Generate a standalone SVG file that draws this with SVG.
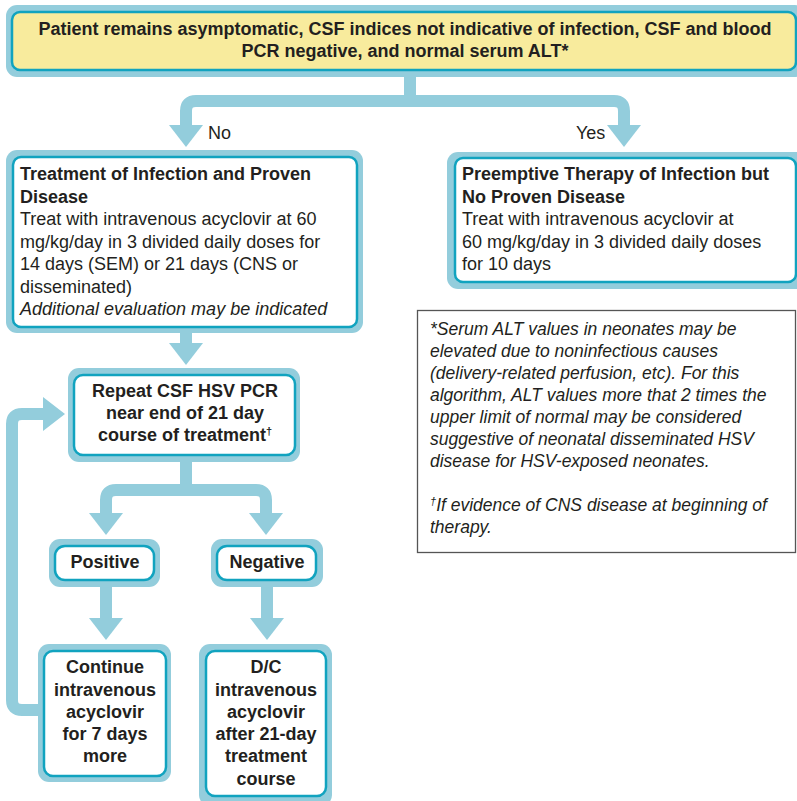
<svg xmlns="http://www.w3.org/2000/svg" width="797" height="801" viewBox="0 0 797 801">
<defs>
<style>
.outer{fill:#93CDDC;}
.inner{fill:#FFFFFF;stroke:#11A3BF;stroke-width:2.5;}
.yellow{fill:#F8EB9D;}
.conn{fill:none;stroke:#93CDDC;stroke-width:12;stroke-linejoin:round;}
text{font-family:"Liberation Sans",Arial,Helvetica,sans-serif;fill:#231F20;font-size:18px;}
.b{font-weight:bold;}
.c{text-anchor:middle;}
.note{font-size:17.5px;font-style:italic;}
.sup{font-size:11px;}
</style>
<marker id="ah" markerUnits="userSpaceOnUse" viewBox="0 -18 24 36" refX="1" refY="0" markerWidth="24" markerHeight="36" orient="auto">
<path d="M0,-17 L22,0 L0,17 Z" fill="#93CDDC"/>
</marker>
</defs>

<g id="connectors">
<path class="conn" d="M410,76 V101"/>
<path class="conn" d="M410,101 H196 Q186,101 186,111 V126" marker-end="url(#ah)"/>
<path class="conn" d="M410,101 H614 Q624,101 624,111 V126" marker-end="url(#ah)"/>
<path class="conn" d="M186,332 V344" marker-end="url(#ah)"/>
<path class="conn" d="M186,461 V490"/>
<path class="conn" d="M186,490 H116 Q106,490 106,500 V514" marker-end="url(#ah)"/>
<path class="conn" d="M186,490 H256 Q266,490 266,500 V514" marker-end="url(#ah)"/>
<path class="conn" d="M106,586 V619" marker-end="url(#ah)"/>
<path class="conn" d="M267,586 V619" marker-end="url(#ah)"/>
<path class="conn" d="M40,710 H22 Q12,710 12,700 V424 Q12,414 22,414 H44" marker-end="url(#ah)"/>
<text x="208" y="139">No</text>
<text x="576" y="139">Yes</text>
</g>

<g id="node-start">
<rect class="outer" x="6" y="5" width="800" height="72" rx="11"/>
<rect class="inner yellow" x="12" y="12" width="784" height="58" rx="8"/>
<text class="b c" x="405" y="35">Patient remains asymptomatic, CSF indices not indicative of infection, CSF and blood</text>
<text class="b c" x="405" y="57">PCR negative, and normal serum ALT*</text>
</g>

<g id="node-treatment">
<rect class="outer" x="6" y="150" width="357" height="183" rx="11"/>
<rect class="inner" x="13" y="157" width="344" height="170" rx="8"/>
<text class="b" x="20" y="180">Treatment of Infection and Proven</text>
<text class="b" x="20" y="202.5">Disease</text>
<text x="20" y="225">Treat with intravenous acyclovir at 60</text>
<text x="20" y="247.5">mg/kg/day in 3 divided daily doses for</text>
<text x="20" y="270">14 days (SEM) or 21 days (CNS or</text>
<text x="20" y="292.5">disseminated)</text>
<text x="20" y="315" font-style="italic">Additional evaluation may be indicated</text>
</g>

<g id="node-preemptive">
<rect class="outer" x="447" y="152" width="360" height="137" rx="11"/>
<rect class="inner" x="455" y="158" width="341" height="124" rx="8"/>
<text class="b" x="462" y="180">Preemptive Therapy of Infection but</text>
<text class="b" x="462" y="202.5">No Proven Disease</text>
<text x="462" y="225">Treat with intravenous acyclovir at</text>
<text x="462" y="247.5">60 mg/kg/day in 3 divided daily doses</text>
<text x="462" y="270">for 10 days</text>
</g>

<g id="node-note">
<rect x="417.5" y="310.5" width="378" height="242" fill="none" stroke="#555555" stroke-width="1.3"/>
<text class="note" x="430" y="335">*Serum ALT values in neonates may be</text>
<text class="note" x="430" y="357">elevated due to noninfectious causes</text>
<text class="note" x="430" y="379">(delivery-related perfusion, etc). For this</text>
<text class="note" x="430" y="401">algorithm, ALT values more that 2 times the</text>
<text class="note" x="430" y="423">upper limit of normal may be considered</text>
<text class="note" x="430" y="445">suggestive of neonatal disseminated HSV</text>
<text class="note" x="430" y="467">disease for HSV-exposed neonates.</text>
<text class="note" x="430" y="511"><tspan class="sup" baseline-shift="super">†</tspan>If evidence of CNS disease at beginning of</text>
<text class="note" x="430" y="533">therapy.</text>
</g>

<g id="node-repeat">
<rect class="outer" x="68" y="368" width="232" height="94" rx="11"/>
<rect class="inner" x="74" y="375" width="221" height="80" rx="9"/>
<text class="b c" x="185" y="397">Repeat CSF HSV PCR</text>
<text class="b c" x="185" y="419">near end of 21 day</text>
<text class="b c" x="185" y="441">course of treatment<tspan class="sup" baseline-shift="super">†</tspan></text>
</g>

<g id="node-positive">
<rect class="outer" x="49" y="539" width="111" height="48" rx="11"/>
<rect class="inner" x="55" y="546" width="99" height="34" rx="10"/>
<text class="b c" x="105" y="568">Positive</text>
</g>

<g id="node-negative">
<rect class="outer" x="211" y="539" width="112" height="48" rx="11"/>
<rect class="inner" x="217" y="546" width="99" height="34" rx="10"/>
<text class="b c" x="267" y="568">Negative</text>
</g>

<g id="node-continue">
<rect class="outer" x="38" y="644" width="133" height="138" rx="11"/>
<rect class="inner" x="44" y="651" width="122" height="125" rx="9"/>
<text class="b c" x="105" y="673">Continue</text>
<text class="b c" x="105" y="696">intravenous</text>
<text class="b c" x="105" y="718">acyclovir</text>
<text class="b c" x="105" y="740">for 7 days</text>
<text class="b c" x="105" y="762">more</text>
</g>

<g id="node-dc">
<rect class="outer" x="199" y="644" width="133" height="162" rx="11"/>
<rect class="inner" x="206" y="651" width="120" height="145" rx="9"/>
<text class="b c" x="266" y="673">D/C</text>
<text class="b c" x="266" y="696">intravenous</text>
<text class="b c" x="266" y="718">acyclovir</text>
<text class="b c" x="266" y="740">after 21-day</text>
<text class="b c" x="266" y="762">treatment</text>
<text class="b c" x="266" y="785">course</text>
</g>
</svg>
